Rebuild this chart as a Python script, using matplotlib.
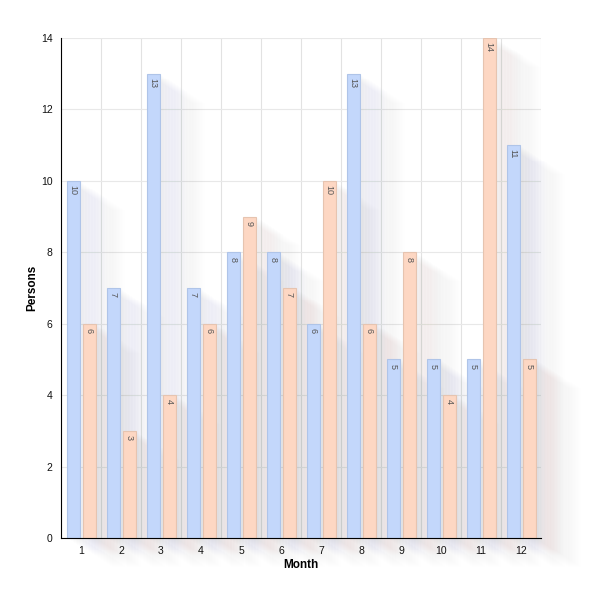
import matplotlib.pyplot as plt
from matplotlib.patches import Rectangle

plt.rcParams['font.family'] = ['Liberation Sans', 'DejaVu Sans']

months = [1, 2, 3, 4, 5, 6, 7, 8, 9, 10, 11, 12]
series_a = [10, 7, 13, 7, 8, 8, 6, 13, 5, 5, 5, 11]
series_b = [6, 3, 4, 6, 9, 7, 10, 6, 8, 4, 14, 5]

fig = plt.figure(figsize=(6.1, 6.01), dpi=100)
ax = fig.add_axes([61 / 610, 63 / 601, 480 / 610, 500 / 601])

ax.set_xlim(0.5, 12.5)
ax.set_ylim(0, 14)

# px -> data units
px_x = 12 / 480
px_y = 14 / 500

bw = 0.325
off = 0.2
blue, blue_edge = '#c3d7fb', '#afc4e8'
orange, orange_edge = '#fdd7c3', '#e6c4b0'


def shadow(x0, h, col):
    # soft diagonal shadow: stacked faded copies of the bar, shifted down-right
    n = 40
    for k in range(n):
        t = 60 * k / n
        a = 0.013 * (1 - k / n) ** 1.3
        ax.add_patch(Rectangle((x0 + t * px_x, -0.64 * t * px_y), bw, h,
                               facecolor=col, edgecolor='none', alpha=a,
                               zorder=1, clip_on=False))


for i, m in enumerate(months):
    shadow(m - off - bw / 2, series_a[i], '#5a6580')
    shadow(m + off - bw / 2, series_b[i], '#7a6656')

ax.bar([m - off for m in months], series_a, width=bw, color=blue,
       edgecolor=blue_edge, linewidth=0.8, zorder=3)
ax.bar([m + off for m in months], series_b, width=bw, color=orange,
       edgecolor=orange_edge, linewidth=0.8, zorder=3)

for i, m in enumerate(months):
    ax.text(m - off, series_a[i] - 0.12, str(series_a[i]), rotation=270,
            ha='center', va='top', fontsize=6.5, color='#555555', zorder=4)
    ax.text(m + off, series_b[i] - 0.12, str(series_b[i]), rotation=270,
            ha='center', va='top', fontsize=6.5, color='#555555', zorder=4)

ax.set_xticks(months)
ax.set_xticks([m + 0.5 for m in [0] + months], minor=True)
ax.set_yticks(range(0, 15, 2))
ax.tick_params(axis='both', which='both', length=0, labelsize=7.5, colors='#111111')
ax.tick_params(axis='x', pad=6)
ax.tick_params(axis='y', pad=6)
ax.grid(axis='x', which='minor', color='#e2e2e2', linewidth=0.8, zorder=0)
ax.grid(axis='y', which='major', color='#e8e8e8', linewidth=0.8, zorder=0)
ax.set_axisbelow(True)

for s in ['top', 'right']:
    ax.spines[s].set_visible(False)
ax.spines['left'].set_color('black')
ax.spines['bottom'].set_color('black')
ax.spines['left'].set_zorder(5)
ax.spines['bottom'].set_zorder(5)

ax.set_xlabel('Month', fontsize=8.5, fontweight='bold', labelpad=2)
ax.set_ylabel('Persons', fontsize=8.5, fontweight='bold', labelpad=2)

fig.savefig('out.png', dpi=100)
